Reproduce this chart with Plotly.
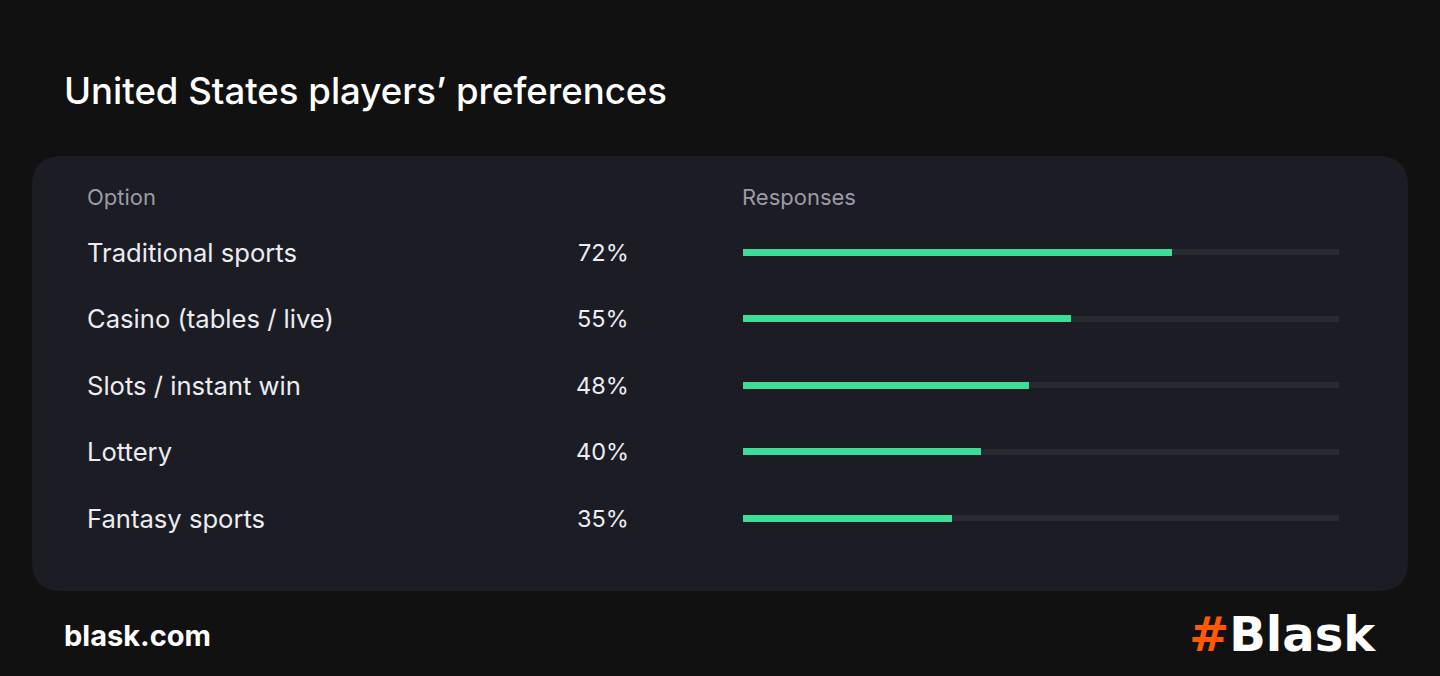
import plotly.graph_objects as go

# ---- data ----
options = ["Traditional sports", "Casino (tables / live)", "Slots / instant win", "Lottery", "Fantasy sports"]
responses = [72, 55, 48, 40, 35]
pct_labels = ["72%", "55%", "48%", "40%", "35%"]
title_text = "United States players’ preferences"
header_option = "Option"
header_responses = "Responses"
footer_left = "blask.com"

W, H = 1440, 676
FONT = "Inter"

def px(x):
    return x / W

def py(y):
    return 1 - y / H

fig = go.Figure()

# track bars (100%)
fig.add_trace(go.Bar(
    y=options, x=[100] * len(options), orientation="h",
    marker=dict(color="#2a2a34", line=dict(width=0)),
    width=0.09, hoverinfo="skip", showlegend=False,
))
# value bars
fig.add_trace(go.Bar(
    y=options, x=responses, orientation="h",
    marker=dict(color="#3ddc97", line=dict(width=0)),
    width=0.105, hoverinfo="skip", showlegend=False,
))

# card background with rounded corners
x0, x1, y0, y1, r = 32, 1408, 156, 591, 30
rx, ry = r / W, r / H
path = (
    f"M {px(x0)+rx},{py(y0)} L {px(x1)-rx},{py(y0)} Q {px(x1)},{py(y0)} {px(x1)},{py(y0)-ry} "
    f"L {px(x1)},{py(y1)+ry} Q {px(x1)},{py(y1)} {px(x1)-rx},{py(y1)} "
    f"L {px(x0)+rx},{py(y1)} Q {px(x0)},{py(y1)} {px(x0)},{py(y1)+ry} "
    f"L {px(x0)},{py(y0)-ry} Q {px(x0)},{py(y0)} {px(x0)+rx},{py(y0)} Z"
)
shapes = [dict(type="path", path=path, xref="paper", yref="paper",
               fillcolor="#1c1c24", line=dict(width=0), layer="below")]

annotations = []
# title
annotations.append(dict(text=title_text, x=px(62), y=py(91), xref="paper", yref="paper",
                        xanchor="left", yanchor="middle", showarrow=False,
                        font=dict(family=FONT, size=36.6, weight=500, color="#ffffff")))
# headers
annotations.append(dict(text=header_option, x=px(85), y=py(197), xref="paper", yref="paper",
                        xanchor="left", yanchor="middle", showarrow=False,
                        font=dict(family=FONT, size=22, color="#9b9ba6")))
annotations.append(dict(text=header_responses, x=px(740), y=py(197), xref="paper", yref="paper",
                        xanchor="left", yanchor="middle", showarrow=False,
                        font=dict(family=FONT, size=22, color="#9b9ba6")))
# row labels and percentages
for opt, lab in zip(options, pct_labels):
    annotations.append(dict(text=opt, x=px(85), y=opt, xref="paper", yref="y",
                            xanchor="left", yanchor="middle", showarrow=False,
                            font=dict(family=FONT, size=25.6, color="#ececf1")))
    annotations.append(dict(text=lab, x=px(631), y=opt, xref="paper", yref="y",
                            xanchor="right", yanchor="middle", showarrow=False,
                            font=dict(family=FONT, size=23.5, color="#ececf1")))
# footer
annotations.append(dict(text="<b>" + footer_left + "</b>", x=px(62), y=py(635), xref="paper", yref="paper",
                        xanchor="left", yanchor="middle", showarrow=False,
                        font=dict(family=FONT, size=29, color="#ffffff")))
annotations.append(dict(text='<b><span style="color:#ff5a00">#</span>Blask</b>', x=px(1378), y=py(634),
                        xref="paper", yref="paper", xanchor="right", yanchor="middle", showarrow=False,
                        font=dict(family="DejaVu Sans", size=48, color="#ffffff")))

pitch = 66.5
top = 252 - pitch / 2
bottom = top + pitch * len(options)

fig.update_layout(
    width=W, height=H,
    margin=dict(l=0, r=0, t=0, b=0),
    paper_bgcolor="#111111", plot_bgcolor="rgba(0,0,0,0)",
    barmode="overlay", bargap=0,
    xaxis=dict(domain=[px(743), px(1339)], range=[0, 100], visible=False, fixedrange=True),
    yaxis=dict(domain=[py(bottom), py(top)], type="category", categoryorder="array",
               categoryarray=options, autorange="reversed", visible=False, fixedrange=True),
    shapes=shapes, annotations=annotations,
)

fig.write_html(
    "out.html",
    config={"displayModeBar": False},
    post_script="document.body.style.margin='0';document.body.style.background='#111111';document.body.style.overflow='hidden';",
)
